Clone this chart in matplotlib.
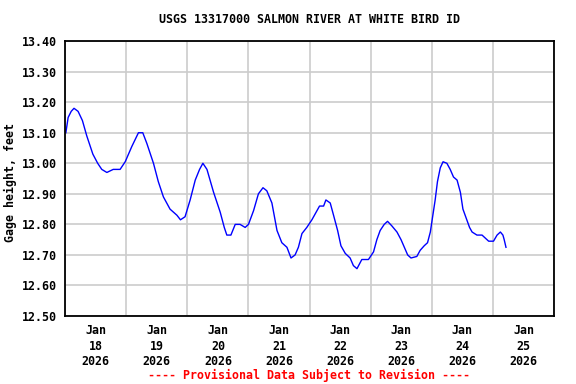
import numpy as np
import matplotlib
matplotlib.use("Agg")
import matplotlib.pyplot as plt
import matplotlib.dates as mdates
from matplotlib.ticker import FixedLocator, FormatStrFormatter
from datetime import datetime, timedelta

# gage height readings: hours after 2026-01-18 00:00, feet
hours = [0.3, 1.2, 2.4, 3.5, 5.1, 6.8, 8.5, 10.9, 12.8, 14.4, 16.4, 18.9, 21.6, 23.6,
         26.2, 28.8, 30.5, 32.1, 34.7, 36.6, 38.6, 41.2, 43.9, 45.3, 47.1, 49.1, 51.1,
         52.8, 54.1, 55.7, 58.3, 60.9, 62.5, 63.5, 65.1, 66.8, 68.7, 70.7, 72.0, 74.0,
         75.9, 77.7, 79.2, 81.2, 83.2, 85.1, 87.1, 88.7, 90.3, 91.6, 93.0, 94.9, 96.9,
         98.9, 99.9, 101.5, 102.4, 104.1, 105.4, 107.0, 108.3, 110.0, 111.9, 113.2,
         114.6, 116.5, 119.1, 121.1, 122.4, 123.7, 125.3, 126.6, 128.3, 130.3, 131.9,
         133.2, 134.5, 135.8, 138.1, 139.4, 141.0, 142.3, 143.4, 144.3, 145.3, 146.2,
         147.3, 148.4, 149.9, 151.2, 152.5, 153.9, 155.2, 156.2, 157.5, 158.8, 159.8,
         161.7, 163.7, 165.0, 166.3, 168.2, 169.6, 170.9, 171.9, 172.4, 173.1]
gage = [13.10, 13.15, 13.17, 13.18, 13.17, 13.14, 13.09, 13.03, 13.00, 12.98, 12.97,
        12.98, 12.98, 13.005, 13.055, 13.10, 13.10, 13.065, 13.00, 12.94, 12.89, 12.85,
        12.83, 12.815, 12.825, 12.88, 12.945, 12.98, 13.00, 12.98, 12.905, 12.84, 12.79,
        12.765, 12.765, 12.80, 12.80, 12.79, 12.80, 12.845, 12.90, 12.92, 12.91, 12.87,
        12.78, 12.74, 12.725, 12.69, 12.70, 12.725, 12.77, 12.79, 12.815, 12.845, 12.86,
        12.86, 12.88, 12.87, 12.83, 12.78, 12.73, 12.705, 12.69, 12.665, 12.655, 12.685,
        12.685, 12.71, 12.75, 12.78, 12.80, 12.81, 12.795, 12.775, 12.75, 12.725, 12.70,
        12.69, 12.695, 12.715, 12.73, 12.74, 12.775, 12.825, 12.88, 12.94, 12.985, 13.005,
        13.00, 12.98, 12.955, 12.945, 12.905, 12.85, 12.82, 12.79, 12.775, 12.765, 12.765,
        12.755, 12.745, 12.745, 12.765, 12.775, 12.765, 12.75, 12.725]

day_labels = ["Jan\n18\n2026", "Jan\n19\n2026", "Jan\n20\n2026", "Jan\n21\n2026",
              "Jan\n22\n2026", "Jan\n23\n2026", "Jan\n24\n2026", "Jan\n25\n2026"]
y_ticks = [12.50, 12.60, 12.70, 12.80, 12.90, 13.00, 13.10, 13.20, 13.30, 13.40]

start = datetime(2026, 1, 18)
times = [start + timedelta(hours=h) for h in hours]

font = "DejaVu Sans Mono"
fig = plt.figure(figsize=(5.76, 3.84), dpi=100)
ax = fig.add_axes([0.113, 0.177, 0.849, 0.716])

ax.plot(times, gage, color="#0000ff", linewidth=1.0)

ax.set_xlim(mdates.date2num(start), mdates.date2num(start + timedelta(days=8)))
ax.set_ylim(12.50, 13.40)

# gridlines at midnight, labels at noon
midnights = [mdates.date2num(start + timedelta(days=i)) for i in range(9)]
noons = [mdates.date2num(start + timedelta(days=i, hours=12)) for i in range(8)]
ax.xaxis.set_major_locator(FixedLocator(noons))
ax.xaxis.set_minor_locator(FixedLocator(midnights))
ax.set_xticklabels(day_labels, fontfamily=font, fontweight="bold", fontsize=8.4,
                   linespacing=1.25)
ax.yaxis.set_major_locator(FixedLocator(y_ticks))
ax.yaxis.set_major_formatter(FormatStrFormatter("%.2f"))
for lab in ax.get_yticklabels():
    lab.set_fontfamily(font)
    lab.set_fontweight("bold")
    lab.set_fontsize(8.4)

ax.tick_params(axis="both", which="both", length=0)
ax.tick_params(axis="x", pad=6)
ax.tick_params(axis="y", pad=6)
ax.grid(True, axis="x", which="minor", color="#cccccc", linewidth=1.2)
ax.grid(True, axis="y", which="major", color="#cccccc", linewidth=1.2)
ax.set_axisbelow(True)
for s in ax.spines.values():
    s.set_linewidth(1.3)

ax.set_ylabel("Gage height, feet", fontfamily=font, fontweight="bold", fontsize=8.4)
ax.yaxis.set_label_coords(-0.098, 0.484)
fig.text(0.537, 0.948, "USGS 13317000 SALMON RIVER AT WHITE BIRD ID",
         ha="center", va="center", fontfamily=font, fontweight="bold", fontsize=8.4)
fig.text(0.537, 0.022, "---- Provisional Data Subject to Revision ----",
         ha="center", va="center", color="red", fontfamily=font, fontweight="bold",
         fontsize=8.4)

fig.savefig("out.png", dpi=100)
